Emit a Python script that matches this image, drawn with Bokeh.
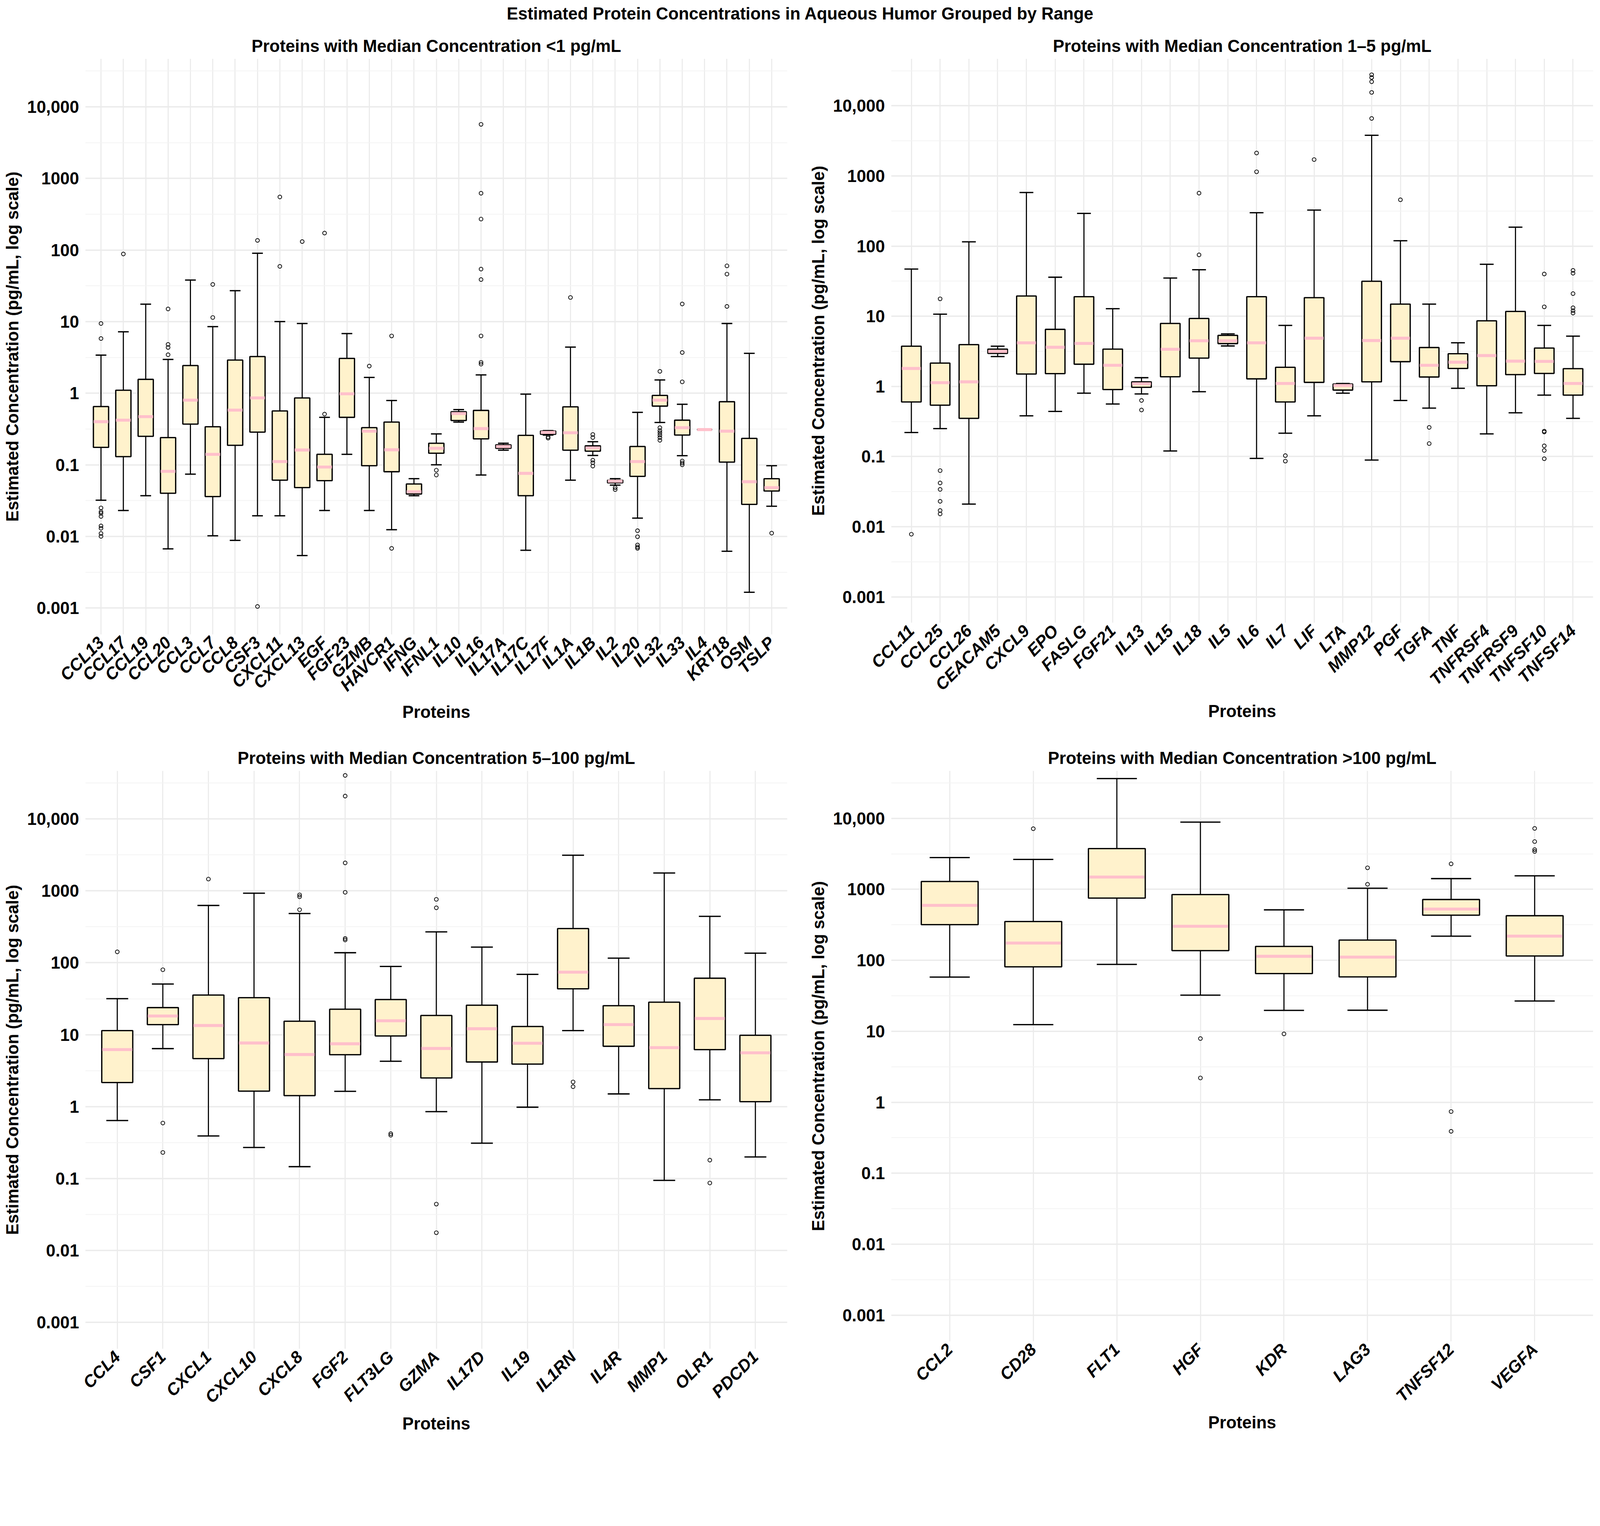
import math
from bokeh.plotting import figure
from bokeh.models import ColumnDataSource, FactorRange, Range1d, FixedTicker
from bokeh.layouts import column, row
from bokeh.embed import file_html
from bokeh.resources import INLINE
from bokeh.core.properties import value

# ---------------- data ----------------
main_title = "Estimated Protein Concentrations in Aqueous Humor Grouped by Range"

title1 = "Proteins with Median Concentration <1 pg/mL"
names1 = ["CCL13", "CCL17", "CCL19", "CCL20", "CCL3", "CCL7", "CCL8", "CSF3", "CXCL11", "CXCL13",
          "EGF", "FGF23", "GZMB", "HAVCR1", "IFNG", "IFNL1", "IL10", "IL16", "IL17A", "IL17C",
          "IL17F", "IL1A", "IL1B", "IL2", "IL20", "IL32", "IL33", "IL4", "KRT18", "OSM", "TSLP"]
lo1 = [0.032, 0.023, 0.037, 0.0067, 0.074, 0.0102, 0.0088, 0.0194, 0.0194, 0.0054,
       0.023, 0.14, 0.023, 0.0124, 0.037, 0.10, 0.395, 0.072, 0.16, 0.0064,
       0.26, 0.061, 0.135, 0.052, 0.018, 0.39, 0.134, 0.31, 0.0062, 0.00166, 0.0264]
q1_1 = [0.175, 0.13, 0.25, 0.040, 0.37, 0.036, 0.187, 0.286, 0.061, 0.048,
        0.060, 0.46, 0.097, 0.080, 0.039, 0.145, 0.415, 0.23, 0.17, 0.037,
        0.267, 0.16, 0.155, 0.056, 0.069, 0.66, 0.26, 0.31, 0.109, 0.028, 0.043]
med1 = [0.40, 0.42, 0.47, 0.081, 0.80, 0.14, 0.58, 0.86, 0.111, 0.161,
        0.093, 0.98, 0.295, 0.162, 0.042, 0.17, 0.52, 0.32, 0.18, 0.076,
        0.283, 0.28, 0.172, 0.059, 0.111, 0.80, 0.33, 0.31, 0.295, 0.058, 0.048]
q3_1 = [0.65, 1.10, 1.56, 0.24, 2.43, 0.34, 2.9, 3.25, 0.565, 0.857,
        0.14, 3.06, 0.33, 0.395, 0.054, 0.20, 0.55, 0.575, 0.19, 0.258,
        0.296, 0.645, 0.184, 0.061, 0.18, 0.93, 0.42, 0.31, 0.76, 0.234, 0.064]
hi1 = [3.4, 7.2, 17.5, 2.96, 38, 8.5, 27, 90, 10, 9.4,
       0.46, 6.8, 1.66, 0.79, 0.064, 0.27, 0.59, 1.8, 0.20, 0.97,
       0.30, 4.4, 0.21, 0.064, 0.54, 1.53, 0.70, 0.31, 9.4, 3.6, 0.097]
out1 = [[9.4, 5.8, 0.025, 0.022, 0.021, 0.019, 0.014, 0.013, 0.011, 0.010],
        [88], [], [15, 4.8, 4.35, 3.44], [], [11.4, 33], [], [136, 0.00105],
        [59, 550], [131], [0.51, 172], [], [2.39], [6.3, 0.0068], [], [0.084, 0.072],
        [], [6.3, 2.7, 2.55, 38.6, 54, 270, 620, 5680], [], [], [0.236, 0.245],
        [21.7], [0.265, 0.24, 0.116, 0.107, 0.096], [0.048, 0.045],
        [0.012, 0.0099, 0.0076, 0.0071, 0.0068], [2.02, 0.33, 0.30, 0.28, 0.26, 0.24, 0.22],
        [3.7, 1.44, 17.6, 0.113, 0.106, 0.10], [], [16.3, 46, 60], [], [0.0111]]

title2 = "Proteins with Median Concentration 1\u20135 pg/mL"
names2 = ["CCL11", "CCL25", "CCL26", "CEACAM5", "CXCL9", "EPO", "FASLG", "FGF21", "IL13", "IL15",
          "IL18", "IL5", "IL6", "IL7", "LIF", "LTA", "MMP12", "PGF", "TGFA", "TNF",
          "TNFRSF4", "TNFRSF9", "TNFSF10", "TNFSF14"]
lo2 = [0.22, 0.25, 0.021, 2.66, 0.38, 0.44, 0.80, 0.56, 0.78, 0.12,
       0.84, 3.77, 0.094, 0.215, 0.38, 0.80, 0.089, 0.63, 0.49, 0.94,
       0.21, 0.42, 0.75, 0.35]
q1_2 = [0.60, 0.54, 0.35, 2.95, 1.50, 1.52, 2.07, 0.90, 0.97, 1.37,
        2.53, 4.07, 1.28, 0.60, 1.14, 0.885, 1.16, 2.25, 1.36, 1.80,
        1.02, 1.47, 1.53, 0.75]
med2 = [1.80, 1.13, 1.16, 3.15, 4.18, 3.61, 4.1, 2.0, 1.09, 3.38,
        4.47, 4.47, 4.18, 1.10, 4.86, 1.03, 4.5, 4.86, 2.0, 2.21,
        2.75, 2.29, 2.27, 1.10]
q3_2 = [3.74, 2.15, 3.94, 3.4, 19.4, 6.5, 19, 3.4, 1.16, 7.9,
        9.3, 5.34, 19, 1.87, 18.4, 1.08, 31.5, 14.9, 3.58, 2.92,
        8.6, 11.7, 3.52, 1.79]
hi2 = [47, 10.7, 115, 3.74, 581, 36, 292, 12.8, 1.33, 35,
       46, 5.6, 299, 7.4, 326, 1.10, 3800, 119, 14.9, 4.18,
       55, 186, 7.4, 5.2]
out2 = [[0.0078], [17.7, 0.063, 0.042, 0.034, 0.023, 0.017, 0.0152], [], [], [], [], [], [],
        [0.63, 0.46], [], [75, 568], [], [1145, 2120], [0.103, 0.086], [1710], [],
        [6600, 15500, 22000, 25300, 27700], [457], [0.26, 0.153], [], [], [],
        [40, 13.6, 0.23, 0.224, 0.142, 0.122, 0.093], [45, 41, 21, 13.2, 12, 11.1]]

title3 = "Proteins with Median Concentration 5\u2013100 pg/mL"
names3 = ["CCL4", "CSF1", "CXCL1", "CXCL10", "CXCL8", "FGF2", "FLT3LG", "GZMA", "IL17D", "IL19",
          "IL1RN", "IL4R", "MMP1", "OLR1", "PDCD1"]
lo3 = [0.64, 6.4, 0.39, 0.27, 0.146, 1.63, 4.27, 0.85, 0.31, 0.98, 11.4, 1.5, 0.094, 1.24, 0.199]
q1_3 = [2.16, 13.8, 4.65, 1.64, 1.42, 5.26, 9.6, 2.5, 4.17, 3.9, 43.5, 6.9, 1.78, 6.2, 1.17]
med3 = [6.2, 18.2, 13.4, 7.66, 5.3, 7.47, 15.6, 6.43, 12.1, 7.6, 74, 13.8, 6.6, 16.8, 5.6]
q3_3 = [11.4, 23.8, 35.6, 32.7, 15.4, 22.6, 30.8, 18.5, 25.7, 13.0, 299, 25.3, 28.3, 61, 9.8]
hi3 = [31.7, 50.7, 627, 927, 484, 138, 89, 269, 165, 69, 3130, 116, 1775, 442, 136]
out3 = [[142], [80, 0.59, 0.23], [1460], [], [880, 828, 547],
        [40400, 20800, 2450, 955, 218, 208], [0.42, 0.40], [762, 581, 0.044, 0.0176],
        [], [], [2.2, 1.89], [], [], [0.18, 0.0865], []]

title4 = "Proteins with Median Concentration >100 pg/mL"
names4 = ["CCL2", "CD28", "FLT1", "HGF", "KDR", "LAG3", "TNFSF12", "VEGFA"]
lo4 = [58, 12.4, 87.5, 32.3, 19.7, 19.8, 219, 26.7]
q1_4 = [318, 81, 752, 137, 65, 58.4, 432, 115]
med4 = [594, 175, 1490, 302, 114, 111, 527, 219]
q3_4 = [1290, 352, 3750, 844, 157, 193, 719, 425]
hi4 = [2800, 2640, 36400, 8850, 514, 1036, 1416, 1550]
out4 = [[], [7150], [], [7.9, 2.2], [9.2], [2010, 1178], [2285, 0.74, 0.39],
        [7210, 4710, 3630, 3420]]

y_ticks = [0.001, 0.01, 0.1, 1, 10, 100, 1000, 10000]
y_tick_labels = ["0.001", "0.01", "0.1", "1", "10", "100", "1000", "10,000"]
y_minor = [10 ** (k + 0.5) for k in range(-4, 5)]

# ---------------- styling ----------------
FONT = "Liberation Sans"
FS = "43.5px"
BOX_FILL = "#FFF2CC"
MEDIAN_COLOR = "#FFC0CB"
GRID = "#EBEBEB"
MINOR_GRID = "#F3F3F3"
Y_START = 10 ** -3.37
Y_END = 10 ** 4.67


def panel(title, names, lo, q1, med, q3, hi, outl, width, height, left, right, top, bottom):
    p = figure(x_range=FactorRange(factors=names, range_padding=0.2, range_padding_units="absolute"),
               y_range=Range1d(Y_START, Y_END), y_axis_type="log",
               width=width, height=height, output_backend="svg", toolbar_location=None,
               min_border_left=left, min_border_right=right,
               min_border_top=top, min_border_bottom=bottom, title=title)
    p.frame_align = False
    p.title.text_font = FONT
    p.title.text_font_size = FS
    p.title.text_font_style = "bold"
    p.title.text_color = "black"
    p.title.align = "center"
    p.title.standoff = 17
    p.outline_line_color = None
    p.background_fill_color = "white"
    p.border_fill_color = "white"

    src = ColumnDataSource(dict(name=names, lo=lo, q1=q1, med=med, q3=q3, hi=hi))
    p.segment(x0="name", y0="lo", x1="name", y1="hi", source=src, line_color="black", line_width=2.8)
    p.rect(x="name", y="lo", width=0.48, height=3.3, height_units="screen", source=src,
           fill_color="black", line_color=None)
    p.rect(x="name", y="hi", width=0.48, height=3.3, height_units="screen", source=src,
           fill_color="black", line_color=None)
    p.vbar(x="name", width=0.68, bottom="q1", top="q3", source=src,
           fill_color=BOX_FILL, line_color="black", line_width=3.3)
    p.rect(x="name", y="med", width=0.66, height=7.6, height_units="screen", source=src,
           fill_color=MEDIAN_COLOR, line_color=None)

    ox, oy = [], []
    for n, vals in zip(names, outl):
        for v in vals:
            ox.append(n)
            oy.append(v)
    p.scatter(x=ox, y=oy, marker="circle", size=9.5, fill_color=None,
              line_color="black", line_width=1.9)

    p.yaxis.ticker = FixedTicker(ticks=y_ticks, minor_ticks=y_minor)
    p.yaxis.major_label_overrides = dict(zip(y_ticks, y_tick_labels))

    for ax in (p.xaxis, p.yaxis):
        ax.axis_line_color = None
        ax.major_tick_line_color = None
        ax.minor_tick_line_color = None
        ax.major_tick_out = 0
        ax.major_tick_in = 0
        ax.minor_tick_out = 0
        ax.minor_tick_in = 0
        ax.major_label_text_font = FONT
        ax.major_label_text_font_size = FS
        ax.major_label_text_color = "black"
        ax.axis_label_text_font = FONT
        ax.axis_label_text_font_size = FS
        ax.axis_label_text_font_style = "bold"
        ax.axis_label_text_color = "black"

    p.xaxis.major_label_text_font_style = "bold italic"
    p.yaxis.major_label_text_font_style = "bold"
    p.xaxis.major_label_orientation = math.pi / 4
    p.xaxis.major_label_standoff = 13
    p.yaxis.major_label_standoff = 16
    p.xaxis.axis_label = "Proteins"
    p.yaxis.axis_label = "Estimated Concentration (pg/mL, log scale)"
    p.xaxis.axis_label_standoff = 0
    p.yaxis.axis_label_standoff = 10

    p.xgrid.grid_line_color = GRID
    p.xgrid.grid_line_width = 2.8
    p.ygrid.grid_line_color = GRID
    p.ygrid.grid_line_width = 3.3
    p.ygrid.minor_grid_line_color = MINOR_GRID
    p.ygrid.minor_grid_line_width = 1.9
    return p


header = figure(width=4097, height=72, x_range=Range1d(0, 1), y_range=Range1d(0, 72),
                output_backend="svg", toolbar_location=None,
                x_axis_location=None, y_axis_location=None,
                min_border_left=0, min_border_right=0, min_border_top=0, min_border_bottom=0)
header.frame_align = False
header.grid.visible = False
header.outline_line_color = None
header.text(x=[0.5], y=[37.4], text=[main_title], text_font=value(FONT), text_font_size=FS,
            text_font_style="bold", text_color="black", text_align="center", text_baseline="middle")

p1 = panel(title1, names1, lo1, q1_1, med1, q3_1, hi1, out1, 2052, 1810, 218, 37, 78, 258)
p2 = panel(title2, names2, lo2, q1_2, med2, q3_2, hi2, out2, 2045, 1810, 229, 19, 78, 288)
p3 = panel(title3, names3, lo3, q1_3, med3, q3_3, hi3, out3, 2052, 1795, 218, 37, 91, 224)
p4 = panel(title4, names4, lo4, q1_4, med4, q3_4, hi4, out4, 2045, 1795, 229, 19, 91, 243)

layout = column(header, row(p1, p2), row(p3, p4))

open("out.html", "w").write(file_html(layout, INLINE))
